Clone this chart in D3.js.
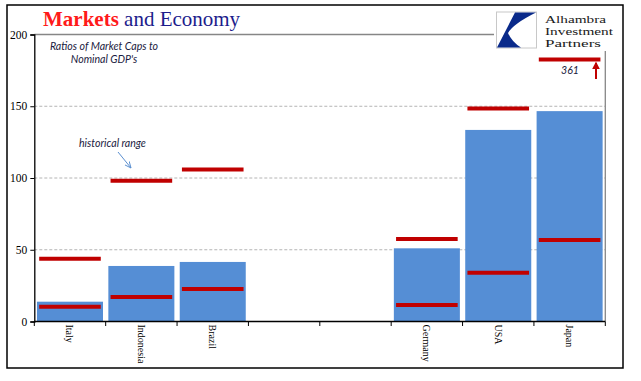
<!DOCTYPE html>
<html><head><meta charset="utf-8">
<script src="https://cdn.jsdelivr.net/npm/d3@7"></script>
<style>body{margin:0;background:#fff}svg{display:block}</style>
</head><body>
<svg id="c" width="641" height="381"></svg>
<script>
const categories = ["Italy","Indonesia","Brazil","_gap1","_gap2","Germany","USA","Japan"];
const tickLabels = ["Italy","Indonesia","Brazil","","","Germany","USA","Japan"];
const currentRatio = [13.8, 38.7, 41.5, null, null, 51, 133.5, 146.6];
const histHigh = [43.8, 98, 106, null, null, 57.5, 148.4, 361];
const histLow = [10.3, 17, 22.6, null, null, 11.5, 34, 56.8];
const yTicks = [0, 50, 100, 150, 200];
const displayCap = 182.5; // off-scale values are drawn here

const svg = d3.select("#c");
const m = {l:34.3, r:605.3, t:34.5, b:321.5};

const x = d3.scaleBand().domain(categories).range([m.l, m.r]).paddingInner(0.075).paddingOuter(0.0375);
const y = d3.scaleLinear().domain([0,200]).range([m.b, m.t]);

// outer frame
svg.append("rect").attr("x",7).attr("y",5).attr("width",616).attr("height",363)
  .attr("fill","#fff").attr("stroke","#000").attr("stroke-width",1.5);

// gridlines
svg.append("g").selectAll("line").data(yTicks.filter(v=>v>0 && v<200)).join("line")
  .attr("x1",m.l).attr("x2",m.r).attr("y1",d=>y(d)).attr("y2",d=>y(d))
  .attr("stroke","#b4b4b4").attr("stroke-width",1).attr("stroke-dasharray","3,2");
// plot frame top & right
svg.append("line").attr("x1",m.l).attr("x2",m.r).attr("y1",y(200)).attr("y2",y(200)).attr("stroke","#868686").attr("stroke-width",1.3);
svg.append("line").attr("x1",m.r).attr("x2",m.r).attr("y1",y(200)).attr("y2",m.b).attr("stroke","#868686").attr("stroke-width",1.3);

// bars
const data = categories.map((c,i)=>({c, v:currentRatio[i], hi:histHigh[i], lo:histLow[i]})).filter(d=>d.v!=null);
svg.append("g").selectAll("rect").data(data).join("rect")
  .attr("x",d=>x(d.c)).attr("width",x.bandwidth())
  .attr("y",d=>y(d.v)).attr("height",d=>y(0)-y(d.v)).attr("fill","#558ed5");

// historical range lines
const inset = 2.2;
const rl = svg.append("g");
data.forEach(d=>{
  [d.hi, d.lo].forEach(v=>{
    const vv = Math.min(v, displayCap);
    rl.append("line").attr("x1",x(d.c)+inset).attr("x2",x(d.c)+x.bandwidth()-inset)
      .attr("y1",y(vv)).attr("y2",y(vv)).attr("stroke","#c00000").attr("stroke-width",4);
  });
});

// y axis
const ya = d3.axisLeft(y).tickValues(yTicks).tickSize(4).tickPadding(3).tickFormat(d3.format("d"));
const yg = svg.append("g").attr("transform",`translate(${m.l},0)`).call(ya);
yg.select(".domain").attr("stroke","#000").attr("stroke-width",1.3);
yg.selectAll(".tick line").attr("stroke","#000");
yg.selectAll("text").attr("font-family","Liberation Serif").attr("font-size",11.5).attr("fill","#000");

// x axis
const bounds = categories.map(c=>x(c)-x.step()*x.paddingInner()/2).concat([m.r]);
svg.append("line").attr("x1",m.l).attr("x2",m.r).attr("y1",m.b).attr("y2",m.b).attr("stroke","#000").attr("stroke-width",1.3);
svg.append("g").selectAll("line").data(bounds).join("line")
  .attr("x1",d=>d).attr("x2",d=>d).attr("y1",m.b).attr("y2",m.b+4.5).attr("stroke","#000");
svg.append("g").selectAll("text").data(categories).join("text")
  .attr("transform",c=>`translate(${x(c)+x.bandwidth()/2},${m.b+3}) rotate(90)`)
  .attr("dy","0.35em").attr("font-family","Liberation Serif").attr("font-size",10).attr("fill","#000")
  .text((c,i)=>tickLabels[i]);

// title
const t = svg.append("text").attr("x",43).attr("y",26).attr("font-family","Liberation Serif").attr("font-size",21);
t.append("tspan").attr("fill","#ff1a1a").attr("font-weight","bold").text("Markets");
t.append("tspan").attr("fill","#1c1c8c").text(" and Economy");

// subtitle
const st = svg.append("text").attr("font-family","Lato").attr("font-style","italic").attr("font-size",10.6).attr("fill","#1a1a40").attr("text-anchor","middle");
st.append("tspan").attr("x",104).attr("y",50).text("Ratios of Market Caps to");
st.append("tspan").attr("x",104).attr("y",63).text("Nominal GDP's");

// annotation
svg.append("text").attr("x",79).attr("y",147).attr("font-family","Lato").attr("font-style","italic").attr("font-size",10.6).attr("fill","#1a1a40").text("historical range");
svg.append("defs").html(`<marker id="ab" viewBox="0 0 10 10" refX="9" refY="5" markerWidth="7" markerHeight="7" orient="auto"><path d="M0,1 L9,5 L0,9" fill="none" stroke="#5b8fd0" stroke-width="1.3"/></marker>
<marker id="ar" viewBox="0 0 10 10" refX="8" refY="5" markerWidth="4" markerHeight="4" orient="auto"><path d="M0,0 L10,5 L0,10 Z" fill="#c00000"/></marker>`);
svg.append("line").attr("x1",118).attr("y1",152).attr("x2",131).attr("y2",168).attr("stroke","#5b8fd0").attr("stroke-width",1).attr("marker-end","url(#ab)");

// off-scale label
svg.append("text").attr("x",570).attr("y",74).attr("text-anchor","middle").attr("font-family","Lato").attr("font-style","italic").attr("font-size",10.6).attr("fill","#1a1a40").text(histHigh[7]);
svg.append("line").attr("x1",596).attr("y1",79).attr("x2",596).attr("y2",63).attr("stroke","#c00000").attr("stroke-width",2).attr("marker-end","url(#ar)");

// logo
const lg = svg.append("g");
lg.append("rect").attr("x",494).attr("y",6).attr("width",128).attr("height",45).attr("fill","#fff");
lg.append("rect").attr("x",496.5).attr("y",12).attr("width",40).attr("height",36).attr("fill","#fff").attr("stroke","#c8c8c8").attr("stroke-width",1);
lg.append("path").attr("d","M515,12.5 L536,12.5 Q513,24 508,33 Q512,42 521,47.5 L497,47.5 Z").attr("fill","#0a2a8a");
[["Alhambra",22.5,61],["Investment",34.8,68],["Partners",47,56]].forEach(([s,yy,w])=>{
  lg.append("text").attr("x",545).attr("y",yy).attr("font-family","Liberation Serif").attr("font-size",11)
    .attr("fill","#1a1a1a").attr("textLength",w).attr("lengthAdjust","spacingAndGlyphs").text(s);
});
</script>
</body></html>
